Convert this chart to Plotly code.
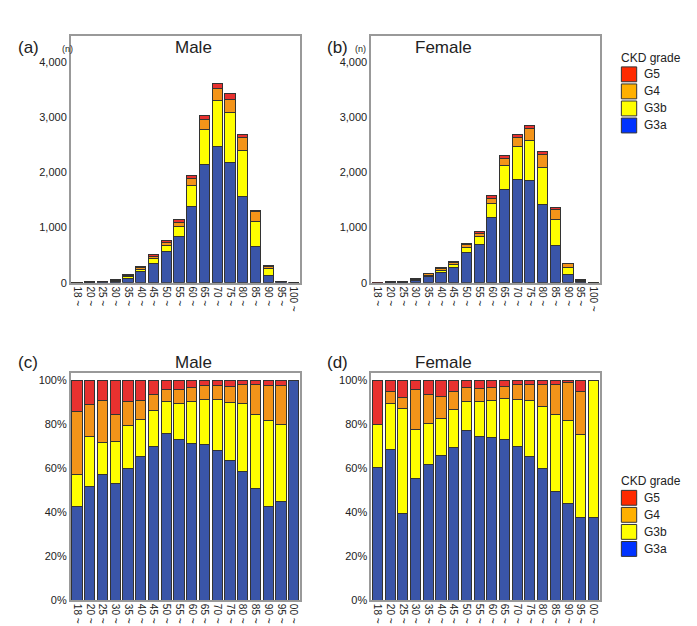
import plotly.graph_objects as go

ages = ['18', '20', '25', '30', '35', '40', '45', '50', '55', '60',
        '65', '70', '75', '80', '85', '90', '95', '100']

# totals (n) (a) and (b)
male_total = [5, 20, 30, 50, 140, 300, 510, 755, 1140, 1945,
              3030, 3615, 3420, 2675, 1310, 305, 30, 5]
female_total = [3, 15, 30, 80, 170, 275, 390, 705, 920, 1585,
                2305, 2690, 2845, 2375, 1360, 345, 60, 5]

# cumulative shares (%) (c) and (d): top of G3a, G3b, G4
male_g3a = [42.8, 51.9, 57.2, 53.2, 60.0, 65.2, 69.7, 75.7, 73.0, 71.3,
            70.9, 68.2, 63.5, 58.5, 50.7, 42.7, 45.0, 100]
male_g3b = [57.0, 74.4, 71.6, 72.0, 79.2, 82.0, 86.1, 90.3, 89.4, 90.3,
            91.3, 91.3, 90.0, 89.4, 84.2, 81.6, 79.9, 100]
male_g4 = [86.0, 89.0, 90.6, 84.6, 90.3, 90.8, 93.5, 95.8, 95.8, 96.8,
           97.6, 97.4, 97.1, 98.0, 98.0, 97.7, 97.7, 100]
female_g3a = [60.2, 68.4, 39.5, 55.3, 61.5, 65.9, 69.3, 77.1, 74.3, 74.0,
              72.9, 69.8, 65.1, 59.7, 49.3, 44.1, 37.6, 37.6]
female_g3b = [80.0, 89.6, 87.0, 77.6, 80.3, 82.7, 86.6, 90.2, 90.2, 90.9,
              91.7, 91.4, 90.8, 88.0, 84.5, 81.8, 75.2, 100]
female_g4 = [80.0, 94.9, 92.2, 95.6, 93.5, 92.6, 95.0, 96.8, 96.1, 96.7,
             97.3, 97.9, 98.0, 98.0, 98.0, 99.0, 94.7, 100]

grades = ['G3a', 'G3b', 'G4', 'G5']
bar_colors = {'G3a': '#3A55A8', 'G3b': '#FFFF00', 'G4': '#F39419', 'G5': '#E8312F'}
legend_colors = ['#FF2A00', '#FFB000', '#FFFF00', '#0033FF']

top_labels = [a + ' ~' for a in ages]
bot_labels = [a[-2:] + ' ~' for a in ages]
pct_ticks = [0, 20, 40, 60, 80, 100]


def shares(g3a, g3b, g4):
    return {'G3a': g3a,
            'G3b': [b - a for a, b in zip(g3a, g3b)],
            'G4': [c - b for b, c in zip(g3b, g4)],
            'G5': [100 - c for c in g4]}


fig = go.Figure()
panels = [
    ('x', 'y', male_total, shares(male_g3a, male_g3b, male_g4), top_labels, False),
    ('x2', 'y2', female_total, shares(female_g3a, female_g3b, female_g4), top_labels, False),
    ('x3', 'y3', None, shares(male_g3a, male_g3b, male_g4), bot_labels, True),
    ('x4', 'y4', None, shares(female_g3a, female_g3b, female_g4), bot_labels, True),
]
for xa, ya, total, sh, labels, pct in panels:
    for g in grades:
        if pct:
            vals = sh[g]
        else:
            vals = [t * s / 100 for t, s in zip(total, sh[g])]
        fig.add_trace(go.Bar(x=labels, y=vals, xaxis=xa, yaxis=ya, name=g,
                             marker=dict(color=bar_colors[g],
                                         line=dict(color='#333333', width=1)),
                             showlegend=False))

fig.update_layout(barmode='stack', bargap=0.2, width=697, height=626,
                  margin=dict(l=0, r=0, t=0, b=0),
                  paper_bgcolor='white', plot_bgcolor='white',
                  font=dict(family='Arial, Liberation Sans', size=11, color='#222'))

axstyle = dict(showline=True, linecolor='#999', linewidth=1.5, mirror=True,
               showgrid=False, ticks='', zeroline=False)
xdoms = [[0.090, 0.419], [0.521, 0.849]]
ydoms = [[0.557, 0.955], [0.045, 0.412]]
for i in range(4):
    sfx = '' if i == 0 else str(i + 1)
    xd = xdoms[i % 2]
    yd = ydoms[i // 2]
    fig.layout['xaxis' + sfx] = dict(domain=xd, anchor='y' + sfx, tickangle=90,
                                     tickfont=dict(size=10), **axstyle)
    if i < 2:
        fig.layout['yaxis' + sfx] = dict(domain=yd, anchor='x' + sfx, range=[0, 4470],
                                         tickvals=[0, 1000, 2000, 3000, 4000],
                                         tickformat=',', **axstyle)
    else:
        fig.layout['yaxis' + sfx] = dict(domain=yd, anchor='x' + sfx, range=[0, 103.5],
                                         tickvals=pct_ticks,
                                         ticktext=[f'{v}%' for v in pct_ticks],
                                         **axstyle)

# panel letters and titles
for lab, x, y in [('(a)', 0.012, 0.936), ('(b)', 0.455, 0.936),
                  ('(c)', 0.012, 0.428), ('(d)', 0.455, 0.428)]:
    fig.add_annotation(text=lab, x=x, y=y, xref='paper', yref='paper',
                       showarrow=False, font=dict(size=17), xanchor='left',
                       yanchor='middle')
for t, x, y in [('Male', 0.237, 0.936), ('Female', 0.668, 0.936),
                ('Male', 0.237, 0.428), ('Female', 0.668, 0.428)]:
    fig.add_annotation(text=t, x=x, y=y, xref='paper', yref='paper',
                       showarrow=False, font=dict(size=17), yanchor='middle')
for x in [0.075, 0.506]:
    fig.add_annotation(text='(n)', x=x, y=0.934, xref='paper', yref='paper',
                       showarrow=False, font=dict(size=9), yanchor='middle')

# legends
for ytop in [0.920, 0.237]:
    fig.add_annotation(text='CKD grade', x=0.876, y=ytop, xref='paper', yref='paper',
                       xanchor='left', yanchor='middle', showarrow=False,
                       font=dict(size=12))
    for k, (g, c) in enumerate(zip(['G5', 'G4', 'G3b', 'G3a'], legend_colors)):
        yc = ytop - 0.027 - k * 0.0275
        fig.add_shape(type='rect', xref='paper', yref='paper',
                      x0=0.880, x1=0.902, y0=yc - 0.012, y1=yc + 0.012,
                      fillcolor=c, line=dict(color='#333', width=1))
        fig.add_annotation(text=g, x=0.909, y=yc, xref='paper', yref='paper',
                           xanchor='left', yanchor='middle', showarrow=False,
                           font=dict(size=12))

fig.write_html('out.html')
